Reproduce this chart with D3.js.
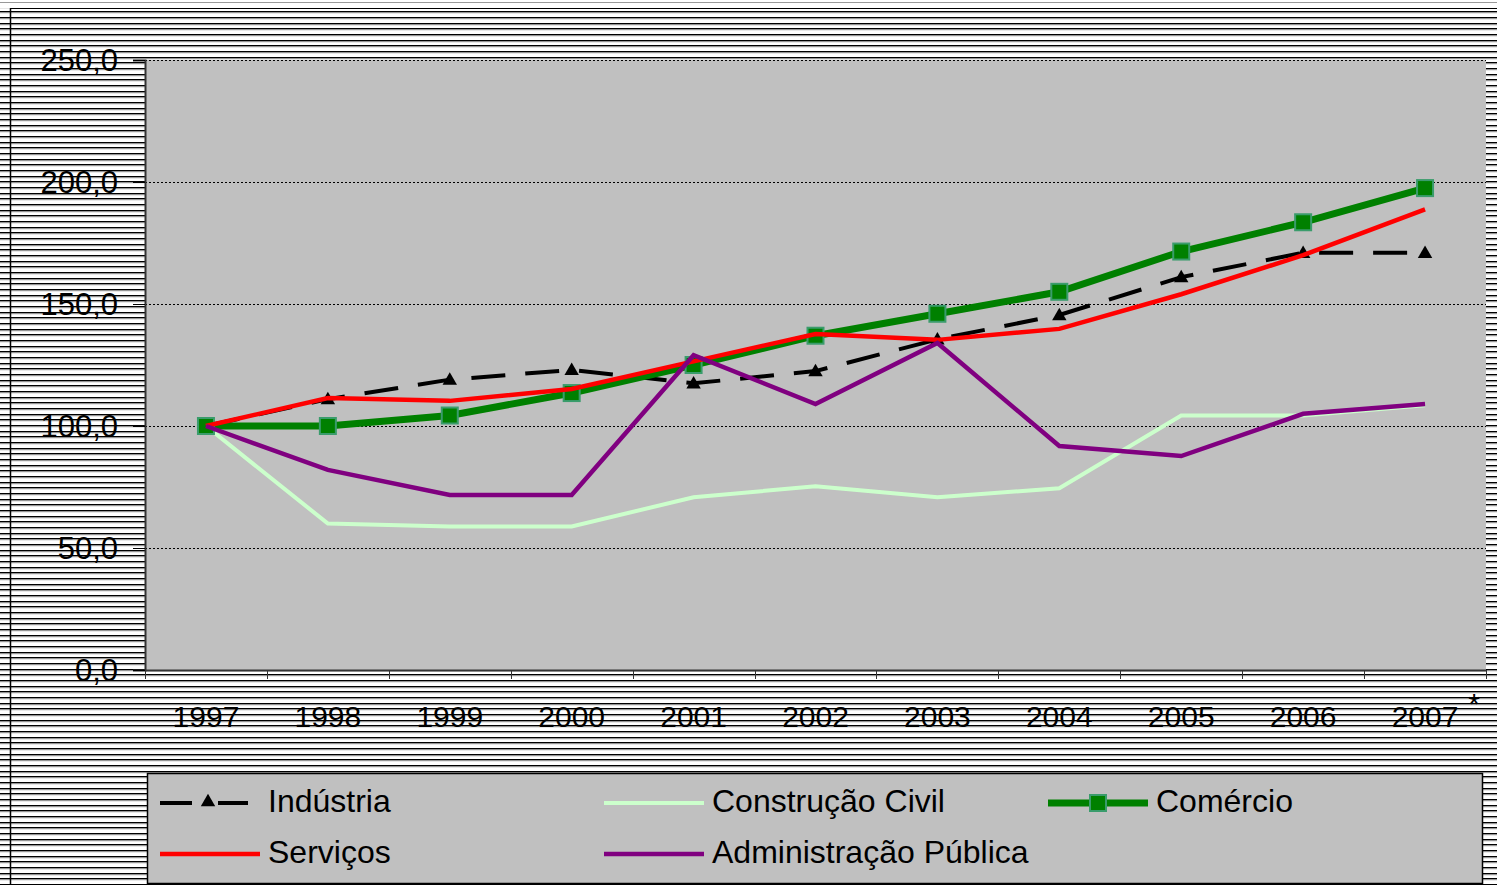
<!DOCTYPE html>
<html><head><meta charset="utf-8">
<script src="https://cdn.jsdelivr.net/npm/d3@7"></script>
<style>html,body{margin:0;padding:0;background:#fff;}svg{display:block;font-family:"Liberation Sans",Arial,sans-serif;}</style>
</head><body>
<svg id="c" width="1497" height="885"></svg>
<script>
const years = ["1997","1998","1999","2000","2001","2002","2003","2004","2005","2006","2007"];
const yTicks = [0,50,100,150,200,250];
const industria = [100,111,119,123,117.5,122.5,135.5,145.5,161,171,171];
const construcao = [100,60,58.8,58.8,70.8,75.3,70.8,74.5,104.3,104.3,108.5];
const comercio = [100,100,104.3,113.5,125,137,146,155,171.5,183.5,197.5];
const servicos = [100,111.5,110.3,115.2,126.5,137.7,135.3,139.8,154,170,188.8];
const adminPublica = [100,82,71.7,71.7,129,109,134,91.8,87.7,105,109];
const legendLabels = ["Indústria","Construção Civil","Comércio","Serviços","Administração Pública"];

(function(){
const svg = d3.select("#c");
const W = 1497, H = 885;
const defs = svg.append("defs");
const pat = defs.append("pattern").attr("id","stripes").attr("patternUnits","userSpaceOnUse")
  .attr("width",20).attr("height",17);
pat.append("rect").attr("width",20).attr("height",17).attr("fill","#fff");
[0,6,11].forEach(o=>{
  pat.append("rect").attr("y",o).attr("width",20).attr("height",1.2).attr("fill","#000");
  pat.append("rect").attr("y",o+1.2).attr("width",20).attr("height",1).attr("fill","#888");
});
svg.append("rect").attr("width",W).attr("height",H).attr("fill","url(#stripes)");
svg.append("rect").attr("width",W).attr("height",8).attr("fill","#fff");
svg.append("line").attr("x1",0).attr("x2",W).attr("y1",2.5).attr("y2",2.5).attr("stroke","#999").attr("stroke-width",1);
svg.append("line").attr("x1",10).attr("x2",W).attr("y1",8.5).attr("y2",8.5).attr("stroke","#000").attr("stroke-width",1);
svg.append("line").attr("x1",10.5).attr("x2",10.5).attr("y1",8).attr("y2",H).attr("stroke","#000").attr("stroke-width",1.5);

const pL = 145, pR = 1486, pT = 60, pB = 670;
const x = d3.scaleBand().domain(years).range([pL,pR]);
const y = d3.scaleLinear().domain([0,250]).range([pB,pT]);
const cx = d => x(d) + x.bandwidth()/2;

svg.append("rect").attr("x",pL).attr("y",pT).attr("width",pR-pL).attr("height",pB-pT).attr("fill","#c0c0c0");

svg.append("g").selectAll("line").data(yTicks.filter(t=>t>0)).join("line")
  .attr("x1",pL).attr("x2",pR).attr("y1",d=>Math.round(y(d))+0.5).attr("y2",d=>Math.round(y(d))+0.5)
  .attr("stroke","#000").attr("stroke-width",1).attr("stroke-dasharray","2,2");

const yAxis = d3.axisLeft(y).tickValues(yTicks).tickSize(12).tickPadding(15)
  .tickFormat(d=>d3.format(".1f")(d).replace(".",","));
const gy = svg.append("g").attr("transform",`translate(${pL},0)`).call(yAxis);
gy.select(".domain").attr("stroke","#333").attr("stroke-width",2);
gy.selectAll(".tick line").attr("stroke","#000");
gy.selectAll("text").attr("font-size",31).attr("fill","#000").attr("font-family","Liberation Sans, Arial, sans-serif").attr("dy","0.35em");

const gx = svg.append("g").attr("transform",`translate(0,${pB})`);
gx.append("line").attr("x1",pL).attr("x2",pR).attr("y1",0.5).attr("y2",0.5).attr("stroke","#333").attr("stroke-width",2);
const bounds = years.map(d=>x(d)).concat([pR]);
gx.selectAll("line.tk").data(bounds).join("line").attr("class","tk")
  .attr("x1",d=>Math.round(d)+0.5).attr("x2",d=>Math.round(d)+0.5).attr("y1",0).attr("y2",9).attr("stroke","#333");
gx.selectAll("text").data(years).join("text")
  .attr("x",d=>cx(d)).attr("y",57).attr("text-anchor","middle").attr("font-size",30).attr("fill","#000").text(d=>d);
svg.append("text").attr("x",1474).attr("y",714).attr("font-size",30).attr("text-anchor","middle").text("*");

const line = d3.line().x((d,i)=>cx(years[i])).y(d=>y(d));
const series = [
  {v:industria, c:"#000", w:4, dash:"34,20", m:"tri"},
  {v:construcao, c:"#ccffcc", w:4},
  {v:comercio, c:"#008000", w:7, m:"sq"},
  {v:servicos, c:"#ff0000", w:4.5},
  {v:adminPublica, c:"#800080", w:4.5}
];
const tri = d3.symbol().type(d3.symbolTriangle).size(90);
series.forEach(s=>{
  const g = svg.append("g");
  g.append("path").attr("d",line(s.v)).attr("fill","none").attr("stroke",s.c).attr("stroke-width",s.w)
    .attr("stroke-dasharray",s.dash||null).attr("stroke-linejoin","miter");
  if(s.m==="tri"){
    g.selectAll("path.m").data(s.v).join("path").attr("class","m").attr("d",tri)
      .attr("transform",(d,i)=>`translate(${cx(years[i])},${y(d)+1})`).attr("fill","#000");
  }
  if(s.m==="sq"){
    g.selectAll("rect.m").data(s.v).join("rect").attr("class","m")
      .attr("x",(d,i)=>cx(years[i])-8).attr("y",d=>y(d)-8).attr("width",16).attr("height",16)
      .attr("fill","#008000").attr("stroke","#3a9c6c").attr("stroke-width",2);
  }
});

const lg = svg.append("g");
lg.append("rect").attr("x",147.5).attr("y",773.5).attr("width",1335).attr("height",110)
  .attr("fill","#c0c0c0").attr("stroke","#000").attr("stroke-width",1.5);
const items = [
  {s:series[0], x:160, y:801, l:legendLabels[0]},
  {s:series[1], x:604, y:801, l:legendLabels[1]},
  {s:series[2], x:1048, y:801, l:legendLabels[2]},
  {s:series[3], x:160, y:852, l:legendLabels[3]},
  {s:series[4], x:604, y:852, l:legendLabels[4]}
];
items.forEach(it=>{
  const s = it.s;
  if(s.m==="tri"){
    lg.append("line").attr("x1",it.x).attr("x2",it.x+32).attr("y1",it.y+2).attr("y2",it.y+2).attr("stroke","#000").attr("stroke-width",4);
    lg.append("line").attr("x1",it.x+58).attr("x2",it.x+88).attr("y1",it.y+2).attr("y2",it.y+2).attr("stroke","#000").attr("stroke-width",4);
    lg.append("path").attr("d",tri).attr("transform",`translate(${it.x+48},${it.y+1})`).attr("fill","#000");
  } else {
    lg.append("line").attr("x1",it.x).attr("x2",it.x+100).attr("y1",it.y+2).attr("y2",it.y+2).attr("stroke",s.c).attr("stroke-width",s.w);
    if(s.m==="sq"){
      lg.append("rect").attr("x",it.x+42).attr("y",it.y-6).attr("width",16).attr("height",16)
        .attr("fill","#008000").attr("stroke","#3a9c6c").attr("stroke-width",2);
    }
  }
  lg.append("text").attr("x",it.x+108).attr("y",it.y+11).attr("font-size",32).attr("fill","#000").text(it.l);
});
})();
</script>
</body></html>
